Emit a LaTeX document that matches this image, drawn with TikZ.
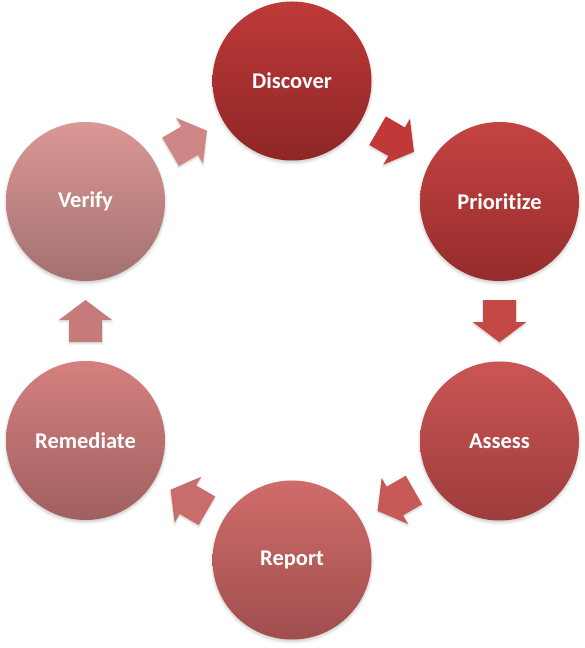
\documentclass[tikz,border=0pt]{standalone}
\usepackage{fontspec}
\setmainfont{Carlito}[Ligatures=NoCommon]
\usetikzlibrary{calc,shadows.blur}
\definecolor{dtop}{HTML}{BE3A38}\definecolor{dbot}{HTML}{8E2626}
\definecolor{ptop}{HTML}{C44442}\definecolor{pbot}{HTML}{962C2C}
\definecolor{atop}{HTML}{CA5654}\definecolor{abot}{HTML}{9E3C3C}
\definecolor{rtop}{HTML}{D06C6A}\definecolor{rbot}{HTML}{A04E4E}
\definecolor{mtop}{HTML}{D4807E}\definecolor{mbot}{HTML}{A06060}
\definecolor{vtop}{HTML}{DA9896}\definecolor{vbot}{HTML}{A47070}
\definecolor{ar1}{HTML}{C03838}\definecolor{ar2}{HTML}{C44844}
\definecolor{ar3}{HTML}{C65856}\definecolor{ar4}{HTML}{C86C6C}
\definecolor{ar5}{HTML}{C67A7A}\definecolor{ar6}{HTML}{CE8686}
\newcommand\blockarrow[3]{%
  \pgfmathanglebetweenpoints{\pgfpointanchor{#1}{center}}{\pgfpointanchor{#2}{center}}%
  \let\arrang\pgfmathresult
  \fill[#3, shift={($(#1)!0.5!(#2)$)}, rotate=\arrang, blur shadow={shadow xshift=0pt, shadow yshift=-1.5pt, shadow blur radius=2pt, shadow opacity=20}]
    (-21,-16.5) -- (1,-16.5) -- (1,-26.5) -- (21,0) -- (1,26.5) -- (1,16.5) -- (-21,16.5) -- cycle;
}
\begin{document}
\begin{tikzpicture}[x=1pt,y=1pt,
  stage/.style={circle, minimum size=159pt, inner sep=0pt, text=white,
    font=\fontsize{22.5}{27}\selectfont\bfseries,
    blur shadow={shadow xshift=0pt, shadow yshift=-2pt, shadow blur radius=3pt, shadow opacity=22}}]
\useasboundingbox (0,0) rectangle (584,648);
\node[stage, top color=dtop, bottom color=dbot] (dis) at (292,567) {Discover};
\node[stage, top color=ptop, bottom color=pbot] (pri) at (499.5,446.5) {Priorit\kern0pt ize};
\node[stage, top color=atop, bottom color=abot] (ass) at (499.5,207) {Assess};
\node[stage, top color=rtop, bottom color=rbot] (rep) at (292,88) {Report};
\node[stage, top color=mtop, bottom color=mbot] (rem) at (85.5,207.5) {Remediate};
\node[stage, top color=vtop, bottom color=vbot] (ver) at (85.5,446.5) {Verify};
\blockarrow{dis}{pri}{ar1}
\blockarrow{pri}{ass}{ar2}
\blockarrow{ass}{rep}{ar3}
\blockarrow{rep}{rem}{ar4}
\blockarrow{rem}{ver}{ar5}
\blockarrow{ver}{dis}{ar6}
\end{tikzpicture}
\end{document}
